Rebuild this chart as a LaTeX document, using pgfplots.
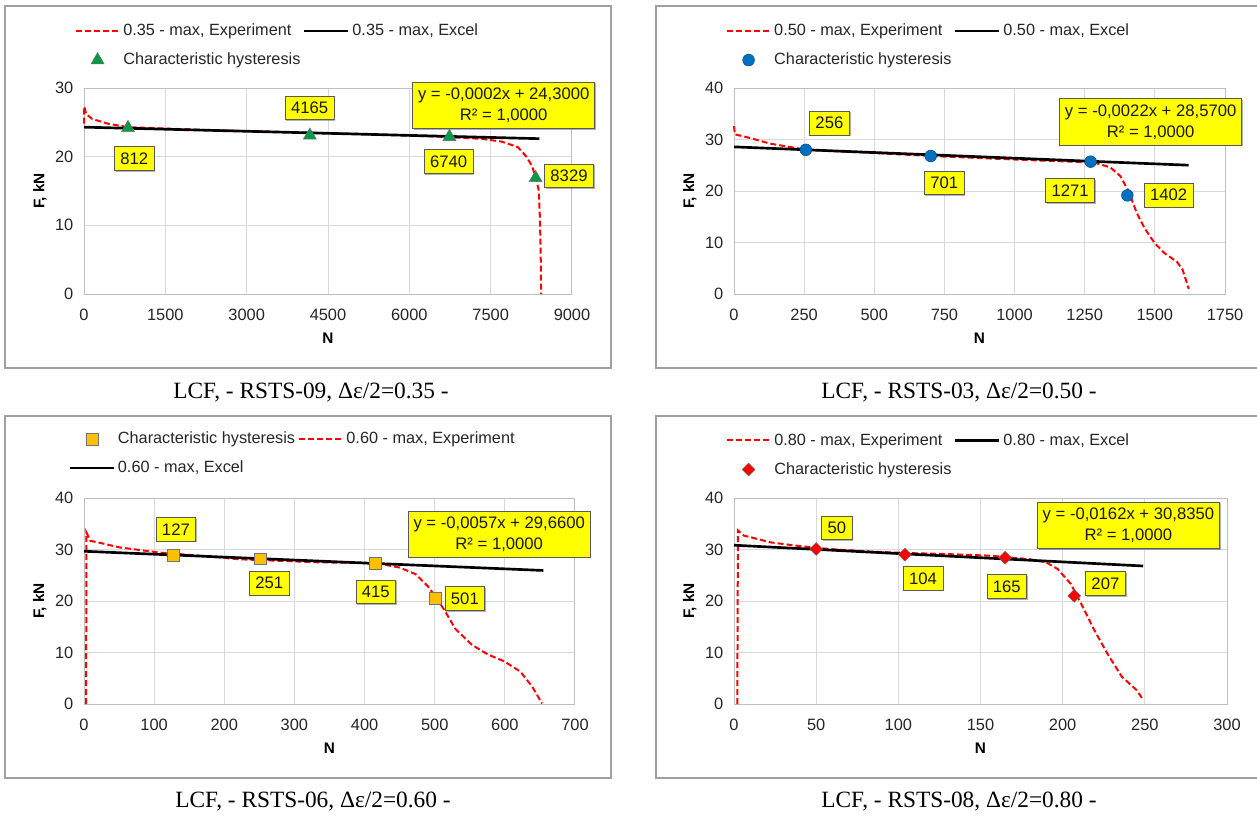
\documentclass[border=0pt]{standalone}
\usepackage{fontspec}
\setmainfont{Liberation Sans}
\newfontfamily\capfont{Liberation Serif}
\usepackage{pgfplots}
\pgfplotsset{compat=1.18}
\usetikzlibrary{shadows}

\definecolor{exred}{RGB}{255,0,0}
\definecolor{tgreen}{RGB}{0,155,72}
\definecolor{cblue}{RGB}{0,112,192}
\definecolor{sorange}{RGB}{255,192,0}
\definecolor{lblyellow}{RGB}{255,255,0}
\definecolor{framegray}{RGB}{160,160,160}

\tikzset{
  lbl/.style={draw=black!65, line width=0.5pt, fill=lblyellow, inner xsep=4.5pt, inner ysep=4.5pt, text=black!90,
    font=\fontsize{12.5}{14}\selectfont,
    drop shadow={shadow xshift=0.9pt, shadow yshift=-0.9pt, fill=black, opacity=0.3}},
  eqbox/.style={lbl, align=center, inner xsep=4pt, inner ysep=4.5pt, font=\fontsize{12.5}{15.5}\selectfont},
}

\pgfplotsset{
  panel/.style={
    scale only axis, anchor=south west, height=154.5pt,
    xmin=0, ymin=0, clip=false,
    axis line style={draw=black!25, line width=0.75pt},
    grid=major, major grid style={draw=black!15, line width=0.75pt},
    major tick length=0pt, tick style={draw=none},
    tick label style={font=\fontsize{12.3}{14}\selectfont, text=black!85},
    xticklabel style={yshift=-7.5pt},
    yticklabel style={xshift=-4.5pt},
    /pgf/number format/assume math mode=true,
    /pgf/number format/1000 sep={},
    x label style={at={(axis description cs:0.5,-0.2136)}, anchor=center, font=\bfseries\fontsize{11.5}{13}\selectfont},
    y label style={at={(axis description cs:-0.09,0.5)}, anchor=center, font=\bfseries\fontsize{11.5}{13}\selectfont},
    xlabel={N}, ylabel={F, kN},
    legend columns=2,
    legend cell align=left,
    legend style={draw=none, fill=none, inner sep=0pt, anchor=west,
      font=\fontsize{12.2}{14}\selectfont, text=black!85, row sep=7.5pt,
      nodes={inner sep=2pt, text depth=0.15em}},
  },
  lineimg/.style={legend image code/.code={\draw[##1] (0pt,0pt) -- (33pt,0pt);}},
  markimg/.style={legend image code/.code={\draw[##1] plot coordinates {(16.5pt,0pt)};}},
  expline/.style={lineimg, exred, line width=1.5pt, dash pattern=on 4.5pt off 2.25pt, no marks},
  xlline/.style={lineimg, black, line width=2pt, no marks},
}

\begin{document}
\begin{tikzpicture}
\begin{scope}[x=0.75pt, y=-0.75pt]
  \useasboundingbox (0,0) rectangle (1257,818);
  \fill[white] (0,0) rectangle (1257,818);
  \draw[framegray, line width=1.1pt] (5,6) rectangle (611,368);
  \draw[framegray, line width=1.1pt] (656,6) rectangle (1260,368);
  \draw[framegray, line width=1.1pt] (5,416) rectangle (611,778);
  \draw[framegray, line width=1.1pt] (656,416) rectangle (1260,778);
  \node[font=\capfont\fontsize{17.5}{20}\selectfont] at (311,393) {LCF, - RSTS-09, Δε/2=0.35 -};
  \node[font=\capfont\fontsize{17.5}{20}\selectfont] at (959,393) {LCF, - RSTS-03, Δε/2=0.50 -};
  \node[font=\capfont\fontsize{17.5}{20}\selectfont] at (313,802) {LCF, - RSTS-06, Δε/2=0.60 -};
  \node[font=\capfont\fontsize{17.5}{20}\selectfont] at (959,802) {LCF, - RSTS-08, Δε/2=0.80 -};
\end{scope}

% ---------- Panel 1 ----------
\begin{axis}[panel, at={(63pt,-220.5pt)}, width=366pt,
  xmax=9000, ymax=30, xtick={0,1500,...,9000}, ytick={0,10,20,30},
  legend style={at={(axis description cs:-0.0198,1.2063)}}]
\addplot[expline] coordinates {
 (0,24.8) (5,27.3) (40,26.2) (150,25.5) (444,24.8) (815,24.3) (2150,23.9)
 (3630,23.6) (5110,23.3) (6590,22.9) (7330,22.6) (7700,22.2) (8000,21.4)
 (8150,20.1) (8260,18.7) (8330,17.0) (8385,15.2) (8407,11.3) (8422,6.4) (8430,0)};
\addlegendentry{0.35 - max, Experiment}
\addplot[xlline] coordinates {(0,24.3) (8400,22.62)};
\addlegendentry{0.35 - max, Excel}
\addplot[markimg, only marks, mark=triangle*, mark size=5.6pt,
  mark options={fill=tgreen, draw=black!55, line width=0.4pt}] coordinates {
 (812,24.2) (4165,23.1) (6740,22.9) (8329,16.9)};
\addlegendentry{Characteristic hysteresis}
\node[lbl] at (axis cs:926,19.7) {812};
\node[lbl] at (axis cs:4163,27.1) {4165};
\node[lbl] at (axis cs:6726,19.3) {6740};
\node[lbl] at (axis cs:8945,17.2) {8329};
\node[eqbox] at (axis cs:7741,27.5) {y = -0,0002x + 24,3000\\R² = 1,0000};
\end{axis}

% ---------- Panel 2 ----------
\begin{axis}[panel, at={(550.5pt,-220.5pt)}, width=368.25pt,
  xmax=1750, ymax=40, xtick={0,250,...,1750}, ytick={0,10,20,30,40},
  legend style={at={(axis description cs:-0.0177,1.2063)}}]
\addplot[expline] coordinates {
 (0,32.6) (3,31.0) (57,30.3) (129,29.2) (258,28.0) (488,27.4) (703,26.8)
 (918,26.3) (1100,25.9) (1205,25.7) (1291,25.4) (1341,24.6) (1377,22.9)
 (1406,20.0) (1435,15.8) (1463,12.8) (1499,9.9) (1535,7.9) (1578,6.3)
 (1599,4.7) (1621,1.0)};
\addlegendentry{0.50 - max, Experiment}
\addplot[xlline] coordinates {(0,28.57) (1620,25.01)};
\addlegendentry{0.50 - max, Excel}
\addplot[markimg, only marks, mark=*, mark size=4.4pt,
  mark options={fill=cblue, draw=cblue!70!black, line width=0.4pt}] coordinates {
 (256,28.0) (701,26.8) (1271,25.7) (1402,19.15)};
\addlegendentry{Characteristic hysteresis}
\node[lbl] at (axis cs:340,33.2) {256};
\node[lbl] at (axis cs:749,21.6) {701};
\node[lbl] at (axis cs:1198,20.1) {1271};
\node[lbl] at (axis cs:1549,19.2) {1402};
\node[eqbox] at (axis cs:1485,33.4) {y = -0,0022x + 28,5700\\R² = 1,0000};
\end{axis}

% ---------- Panel 3 ----------
\begin{axis}[panel, at={(63pt,-528pt)}, width=368.25pt,
  xmax=700, ymax=40, xtick={0,100,...,700}, ytick={0,10,20,30,40},
  legend style={at={(axis description cs:-0.0319,1.216)}}]
\addplot[markimg, only marks, mark=square*, mark size=4.4pt,
  mark options={fill=sorange, draw=black!55, line width=0.4pt}] coordinates {
 (127,28.9) (251,28.2) (415,27.3) (501,20.5)};
\addlegendentry{Characteristic hysteresis}
\addplot[expline] coordinates {
 (3,0) (3.5,33.3) (9,31.7) (29,31.1) (51,30.4) (108,29.4) (165,28.8)
 (222,28.1) (280,27.8) (337,27.5) (394,27.4) (422,27.2) (450,26.5)
 (473,25.2) (490,22.9) (502,20.7) (513,18.4) (530,14.5) (553,11.5)
 (576,9.6) (599,8.3) (622,6.3) (639,3.4) (653,0.1)};
\addlegendentry{0.60 - max, Experiment}
\addplot[xlline] coordinates {(0,29.66) (655,25.93)};
\addlegendentry{0.60 - max, Excel}
\node[lbl] at (axis cs:131,33.9) {127};
\node[lbl] at (axis cs:264,23.5) {251};
\node[lbl] at (axis cs:416,21.8) {415};
\node[lbl] at (axis cs:543,20.5) {501};
\node[eqbox] at (axis cs:592,33.0) {y = -0,0057x + 29,6600\\R² = 1,0000};
\end{axis}

% ---------- Panel 4 ----------
\begin{axis}[panel, at={(550.5pt,-528pt)}, width=369.75pt,
  xmax=300, ymax=40, xtick={0,50,...,300}, ytick={0,10,20,30,40},
  legend style={at={(axis description cs:-0.0176,1.209)}}]
\addplot[expline] coordinates {
 (2,0) (2.4,33.7) (6,32.7) (10,32.4) (22,31.4) (39,30.7) (58,30.1)
 (83,29.6) (107,29.3) (131,29.1) (156,28.8) (180,28.1) (190,27.5)
 (197,26.2) (205,23.3) (212,19.0) (219,14.5) (227,9.9) (236,5.3)
 (245,2.7) (249,0.8)};
\addlegendentry{0.80 - max, Experiment}
\addplot[xlline] coordinates {(0,30.835) (249,26.80)};
\addlegendentry{0.80 - max, Excel}
\addplot[markimg, only marks, mark=square*, mark size=3.4pt,
  mark options={rotate=45, fill=exred, draw=black!60, line width=0.4pt}] coordinates {
 (50,30.1) (104,29.0) (165,28.4) (207,21.0)};
\addlegendentry{Characteristic hysteresis}
\node[lbl] at (axis cs:62.6,34.2) {50};
\node[lbl] at (axis cs:115,24.4) {104};
\node[lbl] at (axis cs:166,22.8) {165};
\node[lbl] at (axis cs:226,23.4) {207};
\node[eqbox] at (axis cs:240,34.7) {y = -0,0162x + 30,8350\\R² = 1,0000};
\end{axis}
\end{tikzpicture}
\end{document}
